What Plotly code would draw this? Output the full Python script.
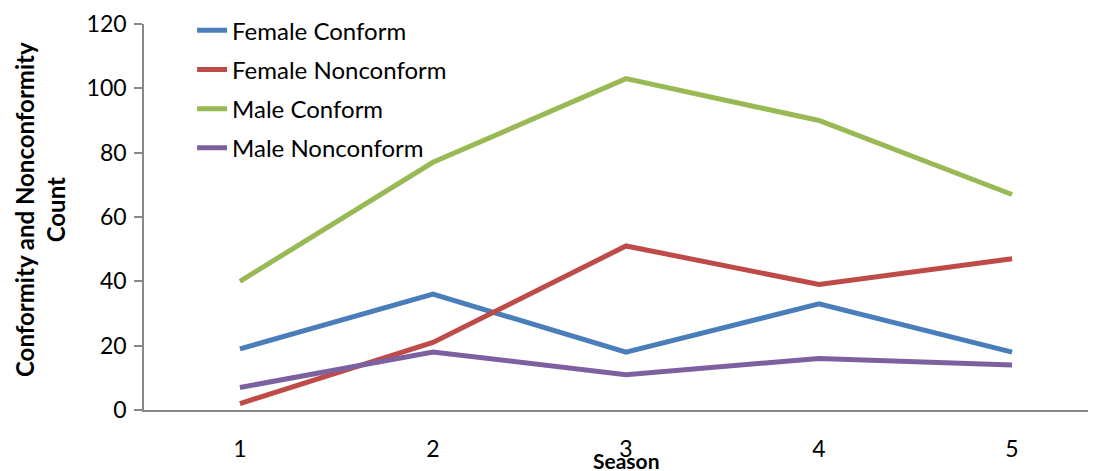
import plotly.graph_objects as go

seasons = [1, 2, 3, 4, 5]
female_conform = [19, 36, 18, 33, 18]
female_nonconform = [2, 21, 51, 39, 47]
male_conform = [40, 77, 103, 90, 67]
male_nonconform = [7, 18, 11, 16, 14]

series = [
    ("Female Conform", female_conform, "#4a7ebb"),
    ("Female Nonconform", female_nonconform, "#be4b48"),
    ("Male Conform", male_conform, "#98b954"),
    ("Male Nonconform", male_nonconform, "#7d60a0"),
]

FONT = "Lato, Carlito, Calibri, sans-serif"

# page body has an 8px margin; figure is sized/positioned to compensate
W, H = 1088, 463
L, T = 136, 16
PLOT_H = 386
PLOT_W = W - L

fig = go.Figure()
for i, (name, vals, color) in enumerate(series):
    fig.add_trace(go.Scatter(
        x=seasons, y=vals, name=name, mode="lines",
        line=dict(color=color, width=5),
        legendgroup=f"g{i}",
    ))

fig.update_layout(
    width=W, height=H,
    margin=dict(l=L, r=0, t=T, b=H - T - PLOT_H),
    paper_bgcolor="white", plot_bgcolor="white",
    font=dict(family=FONT, size=22, color="black"),
    showlegend=True,
    legend=dict(
        x=0.0505, y=1.041, xanchor="left", yanchor="top",
        bgcolor="rgba(0,0,0,0)", font=dict(size=24, family=FONT),
        tracegroupgap=5,
    ),
    xaxis=dict(
        range=[0.503, 5.435], tickvals=seasons, ticktext=[str(s) for s in seasons],
        showgrid=False, zeroline=False, showline=True,
        linecolor="#888888", linewidth=1.5, ticks="",
        ticklabelstandoff=18,
        tickfont=dict(size=23, family=FONT),
    ),
    yaxis=dict(
        range=[0, 120], tickvals=[0, 20, 40, 60, 80, 100, 120],
        showgrid=False, zeroline=False, showline=True,
        linecolor="#888888", linewidth=1.5,
        ticks="outside", ticklen=8, tickcolor="#888888", tickwidth=1.5,
        ticklabelstandoff=3,
        tickfont=dict(size=23, family=FONT),
    ),
    annotations=[
        dict(text="<b>Season</b>", xref="paper", yref="paper",
             x=(626 - 144) / PLOT_W, y=-(460 - 410) / PLOT_H,
             xanchor="center", yanchor="middle", showarrow=False,
             font=dict(size=21, family=FONT)),
        dict(text="<b>Conformity and Nonconformity<br>Count</b>", xref="paper", yref="paper",
             x=-(144 - 40) / PLOT_W, y=(410 - 210) / PLOT_H, textangle=-90,
             xanchor="center", yanchor="middle", showarrow=False,
             font=dict(size=24, family=FONT)),
    ],
)

fig.write_html("out.html")
